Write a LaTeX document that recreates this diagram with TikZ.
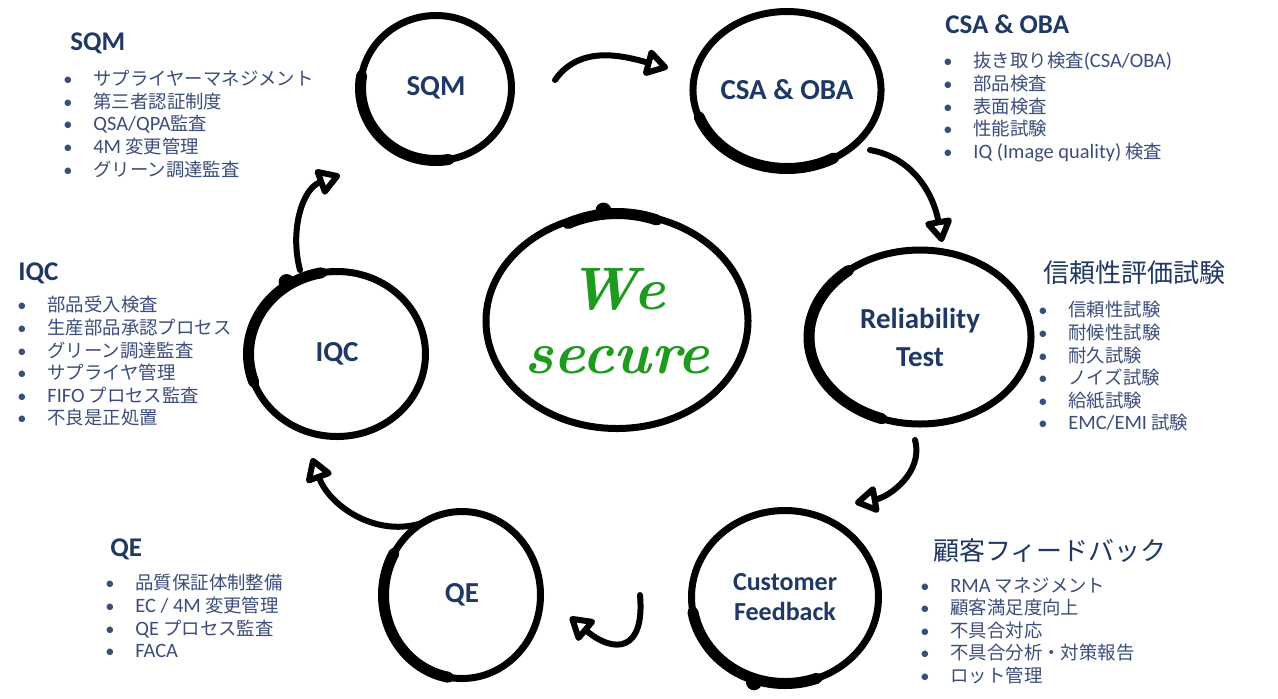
\documentclass[tikz,border=0pt]{standalone}
\usepackage{fontspec}
\usepackage{tikz}
\usetikzlibrary{shapes.geometric,arrows.meta}
\newfontfamily\jp{Noto Sans CJK JP}
\newfontfamily\lat{Carlito}
\definecolor{navy}{HTML}{1F3864}
\definecolor{listblue}{HTML}{3B4D7A}
\definecolor{handgreen}{HTML}{1E9B1E}
\newcommand{\itm}[1]{\makebox[15pt][l]{\lat •}#1}
\newcommand{\la}[1]{{\lat\fontsize{10.2}{11.3}\selectfont #1}}

\begin{document}
\begin{tikzpicture}[x=0.5pt,y=0.5pt,
	ring/.style={ellipse, draw, line width=3.5pt, inner sep=0pt, align=center, text=navy, font=\lat\bfseries\fontsize{14.5}{19}\selectfont},
	flow/.style={line width=3pt, line cap=round, -{Triangle[open,round,length=13pt,width=15pt]}},
	head/.style={anchor=base west, inner sep=0pt, text=navy, font=\lat\bfseries\fontsize{13.5}{16}\selectfont},
	jhead/.style={head, font=\jp\fontsize{13}{16}\selectfont},
	list/.style={anchor=north west, inner sep=0pt, align=left, text=listblue, font=\jp\fontsize{9.2}{11.3}\selectfont}]
	\fill[white] (0,0) rectangle (1278,-698);
	\useasboundingbox (0,0) rectangle (1278,-698);

	% the cycle
	\node[ring, minimum width=75.5pt, minimum height=72.5pt] (sqm) at (436,-88) {SQM};
	\node[ring, minimum width=93.5pt, minimum height=78.5pt] (csa) at (787,-90) {CSA \& OBA};
	\node[ring, minimum width=111pt, minimum height=87pt] (rel) at (920,-337) {Reliability\\Test};
	\node[ring, minimum width=93.5pt, minimum height=86.5pt, font=\lat\bfseries\fontsize{13}{15}\selectfont] (cf) at (785,-597) {Customer\\Feedback};
	\node[ring, minimum width=78.5pt, minimum height=83.5pt] (qe) at (462,-595) {QE};
	\node[ring, minimum width=88.5pt, minimum height=82.5pt] (iqc) at (337,-354) {IQC};
	\node[ring, minimum width=116.5pt, minimum height=107.5pt, text=handgreen, font=\bfseries\itshape\fontsize{30}{32}\selectfont] (we) at (617,-321) {We\\secure};

	% heavier brush parts
	\foreach \n/\rx/\ry/\a/\b in {sqm/37.75/36.25/170/280, csa/46.75/39.25/200/300, rel/55.5/43.5/130/250, cf/46.75/43.25/190/290, qe/39.25/41.75/150/260, iqc/44.25/41.25/100/200, we/58.25/53.75/70/115}
		\draw[line width=5.5pt, line cap=round] (\n.center) ++(\a:\rx pt and \ry pt) arc[start angle=\a, end angle=\b, x radius=\rx pt, y radius=\ry pt];
	\foreach \p in {we.97, iqc.125, cf.250}
		\fill (\p) circle (4pt);

	\draw[flow] ([shift={(119,8)}]sqm.center) to[out=55,in=165] ([shift={(-119,22)}]csa.center);
	\draw[flow] ([shift={(83,-60)}]csa.center) to[out=-10,in=100] ([shift={(22,95)}]rel.center);
	\draw[flow] ([shift={(-5,-103)}]rel.center) to[out=-75,in=10] ([shift={(70,94)}]cf.center);
	\draw[flow] ([shift={(-145,2)}]cf.center) to[out=-85,in=-40,looseness=2] ([shift={(108,-22)}]qe.center);
	\draw[flow] ([shift={(-37,73)}]qe.center) to[out=200,in=-70] ([shift={(-25,-104)}]iqc.center);
	\draw[flow] ([shift={(-37,84)}]iqc.center) to[out=105,in=200] ([shift={(-96,-87)}]sqm.center);

	% texts
	\node[head] (sqmh) at (70,-50) {SQM};
	\node[list] (sqml) at (63,-70) {\itm{サプライヤーマネジメント}\\\itm{第三者認証制度}\\\itm{\la{QSA/QPA}監査}\\\itm{\la{4M} 変更管理}\\\itm{グリーン調達監査}};
	\node[head] (csah) at (945,-33) {CSA \& OBA};
	\node[list] (csal) at (943,-52) {\itm{抜き取り検査\la{(CSA/OBA)}}\\\itm{部品検査}\\\itm{表面検査}\\\itm{性能試験}\\\itm{\la{IQ (Image quality)} 検査}};
	\node[jhead] (relh) at (1043,-282) {信頼性評価試験};
	\node[list] (rell) at (1038,-301) {\itm{信頼性試験}\\\itm{耐候性試験}\\\itm{耐久試験}\\\itm{ノイズ試験}\\\itm{給紙試験}\\\itm{\la{EMC/EMI} 試験}};
	\node[jhead] (cfh) at (933,-560) {顧客フィードバック};
	\node[list] (cfl) at (920,-577) {\itm{\la{RMA} マネジメント}\\\itm{顧客満足度向上}\\\itm{不具合対応}\\\itm{不具合分析・対策報告}\\\itm{ロット管理}};
	\node[head] (qeh) at (110,-556) {QE};
	\node[list] (qel) at (105,-574) {\itm{品質保証体制整備}\\\itm{\la{EC / 4M} 変更管理}\\\itm{\la{QE} プロセス監査}\\\itm{\la{FACA}}};
	\node[head] (iqch) at (18,-280) {IQC};
	\node[list] (iqcl) at (17,-296) {\itm{部品受入検査}\\\itm{生産部品承認プロセス}\\\itm{グリーン調達監査}\\\itm{サプライヤ管理}\\\itm{\la{FIFO} プロセス監査}\\\itm{不良是正処置}};
\end{tikzpicture}
\end{document}
